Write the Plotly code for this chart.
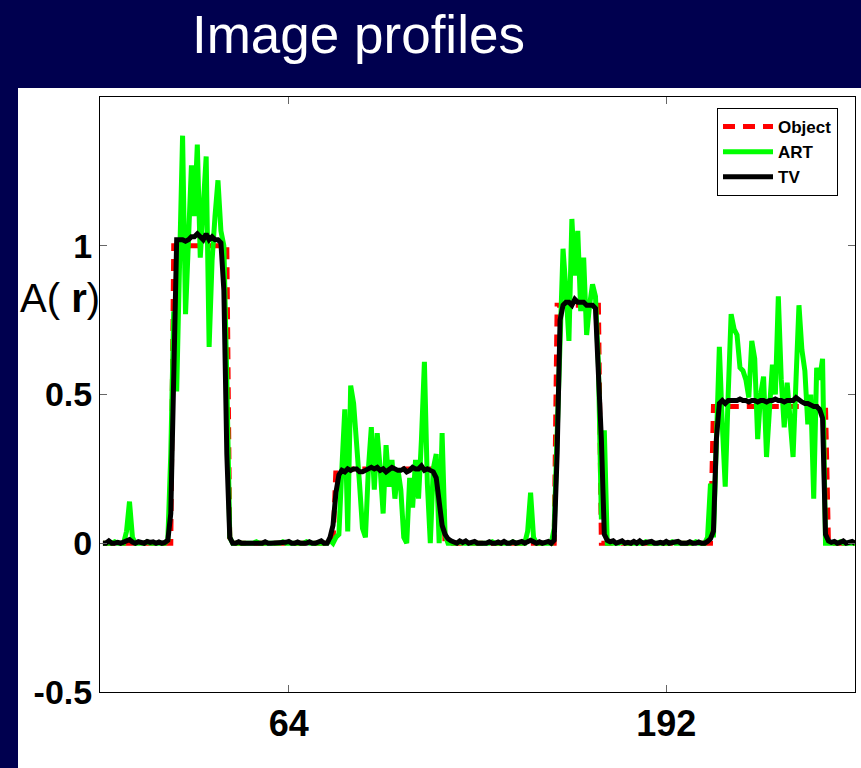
import plotly.graph_objects as go

# Sample index along the profile (pixels 1..256)
pixel = list(range(1, 257))

# True object profile
object_profile = [
    0, 0, 0, 0, 0, 0, 0, 0, 0, 0, 0, 0, 0, 0, 0, 0,
    0, 0, 0, 0, 0, 0, 0, 0, 1.0, 1.0, 1.0, 1.0, 1.0, 1.0, 1.0, 1.0,
    1.0, 1.0, 1.0, 1.0, 1.0, 1.0, 1.0, 1.0, 1.0, 1.0, 1.0, 0, 0, 0, 0, 0,
    0, 0, 0, 0, 0, 0, 0, 0, 0, 0, 0, 0, 0, 0, 0, 0,
    0, 0, 0, 0, 0, 0, 0, 0, 0, 0, 0, 0, 0, 0, 0, 0.25,
    0.25, 0.25, 0.25, 0.25, 0.25, 0.25, 0.25, 0.25, 0.25, 0.25, 0.25, 0.25, 0.25, 0.25, 0.25, 0.25,
    0.25, 0.25, 0.25, 0.25, 0.25, 0.25, 0.25, 0.25, 0.25, 0.25, 0.25, 0.25, 0.25, 0.25, 0.25, 0.25,
    0.25, 0.25, 0.25, 0.25, 0, 0, 0, 0, 0, 0, 0, 0, 0, 0, 0, 0,
    0, 0, 0, 0, 0, 0, 0, 0, 0, 0, 0, 0, 0, 0, 0, 0,
    0, 0, 0, 0, 0, 0, 0, 0, 0, 0, 0.8, 0.8, 0.8, 0.8, 0.8, 0.8,
    0.8, 0.8, 0.8, 0.8, 0.8, 0.8, 0.8, 0.8, 0.8, 0, 0, 0, 0, 0, 0, 0,
    0, 0, 0, 0, 0, 0, 0, 0, 0, 0, 0, 0, 0, 0, 0, 0,
    0, 0, 0, 0, 0, 0, 0, 0, 0, 0, 0, 0, 0, 0, 0, 0.46,
    0.46, 0.46, 0.46, 0.46, 0.46, 0.46, 0.46, 0.46, 0.46, 0.46, 0.46, 0.46, 0.46, 0.46, 0.46, 0.46,
    0.46, 0.46, 0.46, 0.46, 0.46, 0.46, 0.46, 0.46, 0.46, 0.46, 0.46, 0.46, 0.46, 0.46, 0.46, 0.46,
    0.46, 0.46, 0.46, 0.46, 0.46, 0.46, 0, 0, 0, 0, 0, 0, 0, 0, 0, 0,
]

# ART reconstruction
art_profile = [
    0.00, 0.00, 0.00, 0.00, 0.005, 0.00, 0.00, 0.00, 0.04, 0.14, 0.02, 0.00, 0.00, 0.00, 0.00, 0.005,
    0.00, 0.00, 0.00, 0.00, 0.00, 0.00, 0.01, 0.30, 0.78, 0.51, 0.95, 1.37, 0.77, 1.05, 1.27, 1.10,
    1.34, 0.96, 1.15, 1.30, 0.66, 0.95, 1.10, 1.22, 1.05, 1.00, 0.55, 0.02, 0.00, 0.00, 0.00, 0.00,
    0.00, 0.00, 0.00, 0.00, 0.005, 0.00, 0.00, 0.00, 0.00, 0.00, 0.00, 0.00, 0.00, 0.005, 0.00, 0.00,
    0.00, 0.00, 0.00, 0.00, 0.00, 0.005, 0.00, 0.00, 0.00, 0.00, 0.00, 0.00, 0.00, 0.01, 0.00, 0.02,
    0.03, 0.25, 0.45, 0.04, 0.53, 0.47, 0.30, 0.20, 0.05, 0.02, 0.25, 0.39, 0.18, 0.37, 0.25, 0.10,
    0.33, 0.19, 0.28, 0.15, 0.25, 0.18, 0.02, 0.00, 0.22, 0.12, 0.28, 0.15, 0.35, 0.61, 0.20, 0.00,
    0.25, 0.30, 0.00, 0.37, 0.03, 0.00, 0.00, 0.00, 0.00, 0.005, 0.00, 0.00, 0.00, 0.00, 0.00, 0.00,
    0.00, 0.00, 0.00, 0.00, 0.005, 0.00, 0.00, 0.00, 0.00, 0.00, 0.00, 0.005, 0.00, 0.00, 0.00, 0.00,
    0.04, 0.17, 0.02, 0.00, 0.00, 0.00, 0.00, 0.00, 0.00, 0.05, 0.40, 0.75, 0.99, 0.85, 0.68, 1.09,
    0.90, 1.05, 0.78, 0.96, 0.70, 0.80, 0.87, 0.83, 0.60, 0.08, 0.38, 0.00, 0.00, 0.00, 0.00, 0.00,
    0.005, 0.00, 0.00, 0.00, 0.00, 0.00, 0.00, 0.00, 0.005, 0.00, 0.00, 0.00, 0.00, 0.00, 0.00, 0.00,
    0.00, 0.005, 0.00, 0.00, 0.00, 0.00, 0.00, 0.00, 0.00, 0.005, 0.00, 0.00, 0.00, 0.02, 0.20, 0.02,
    0.35, 0.66, 0.40, 0.19, 0.50, 0.77, 0.72, 0.70, 0.59, 0.58, 0.55, 0.49, 0.68, 0.62, 0.35, 0.50,
    0.56, 0.29, 0.45, 0.60, 0.50, 0.83, 0.55, 0.39, 0.54, 0.42, 0.29, 0.55, 0.80, 0.65, 0.58, 0.40,
    0.50, 0.15, 0.59, 0.55, 0.62, 0.00, 0.00, 0.00, 0.00, 0.00, 0.005, 0.00, 0.00, 0.00, 0.00, 0.00,
]

# TV reconstruction
tv_profile = [
    0.00, 0.00, 0.008, 0.00, 0.00, 0.003, 0.00, 0.003, 0.005, 0.012, 0.004, 0.00, 0.005, 0.003, 0.00, 0.006,
    0.003, 0.005, 0.00, 0.004, 0.00, 0.003, 0.01, 0.10, 0.55, 1.02, 1.02, 1.02, 1.015, 1.02, 1.03, 1.03,
    1.04, 1.03, 1.02, 1.04, 1.02, 1.03, 1.02, 1.02, 1.01, 0.85, 0.30, 0.02, 0.00, 0.00, 0.005, 0.00,
    0.00, 0.00, 0.00, 0.003, 0.00, 0.00, 0.00, 0.005, 0.00, 0.00, 0.00, 0.00, 0.00, 0.00, 0.003, 0.006,
    0.00, 0.00, 0.004, 0.00, 0.00, 0.00, 0.005, 0.00, 0.00, 0.003, 0.008, 0.00, 0.00, 0.02, 0.06, 0.17,
    0.23, 0.245, 0.24, 0.25, 0.245, 0.25, 0.25, 0.24, 0.24, 0.245, 0.25, 0.255, 0.25, 0.255, 0.245, 0.25,
    0.24, 0.25, 0.255, 0.25, 0.245, 0.245, 0.25, 0.24, 0.245, 0.255, 0.25, 0.25, 0.26, 0.245, 0.25, 0.245,
    0.24, 0.22, 0.15, 0.06, 0.03, 0.015, 0.008, 0.005, 0.00, 0.008, 0.003, 0.008, 0.00, 0.003, 0.006, 0.00,
    0.00, 0.003, 0.00, 0.005, 0.00, 0.00, 0.004, 0.00, 0.006, 0.00, 0.00, 0.005, 0.00, 0.003, 0.006, 0.00,
    0.006, 0.01, 0.005, 0.00, 0.005, 0.00, 0.003, 0.006, 0.00, 0.01, 0.30, 0.75, 0.80, 0.81, 0.81, 0.80,
    0.82, 0.81, 0.81, 0.81, 0.80, 0.80, 0.80, 0.79, 0.60, 0.35, 0.03, 0.01, 0.005, 0.008, 0.00, 0.003,
    0.008, 0.00, 0.003, 0.00, 0.006, 0.00, 0.008, 0.00, 0.00, 0.004, 0.006, 0.00, 0.00, 0.003, 0.00, 0.006,
    0.00, 0.00, 0.004, 0.006, 0.00, 0.00, 0.00, 0.005, 0.00, 0.00, 0.004, 0.00, 0.00, 0.006, 0.015, 0.04,
    0.35, 0.47, 0.48, 0.47, 0.48, 0.48, 0.48, 0.48, 0.485, 0.48, 0.48, 0.475, 0.48, 0.48, 0.475, 0.48,
    0.48, 0.475, 0.48, 0.48, 0.485, 0.48, 0.48, 0.475, 0.48, 0.48, 0.48, 0.49, 0.48, 0.475, 0.47, 0.47,
    0.465, 0.46, 0.46, 0.45, 0.42, 0.03, 0.008, 0.003, 0.006, 0.00, 0.003, 0.008, 0.00, 0.004, 0.006, 0.00,
]

x_tick_values = [64, 192]
x_tick_labels = ["64", "192"]
y_tick_values = [-0.5, 0, 0.5, 1]
y_tick_labels = ["-0.5", "0", "0.5", "1"]

NAVY = "#00004f"
FONT = "Liberation Sans, Arial, Helvetica, sans-serif"

fig = go.Figure()
fig.add_trace(go.Scatter(x=pixel, y=object_profile, mode="lines", name="Object",
                         line=dict(color="#ff0000", width=5, dash="12px,8px")))
fig.add_trace(go.Scatter(x=pixel, y=art_profile, mode="lines", name="ART",
                         line=dict(color="#00ff00", width=5)))
fig.add_trace(go.Scatter(x=pixel, y=tv_profile, mode="lines", name="TV",
                         line=dict(color="#000000", width=5)))

# plot area spans 100..855 px horizontally and 97..692 px vertically
L, R, T, B = 100, 6, 97, 76
W, H = 861, 768
pw, ph = W - L - R, H - T - B


def px_x(p):
    return (p - L) / pw


def px_y(p):
    return (H - B - p) / ph


fig.update_layout(
    width=W, height=H,
    margin=dict(l=L, r=R, t=T, b=B, pad=0),
    paper_bgcolor=NAVY,
    plot_bgcolor="white",
    font=dict(family=FONT, color="black"),
    showlegend=True,
    legend=dict(
        x=px_x(838), y=px_y(108), xanchor="right", yanchor="top",
        bgcolor="white", bordercolor="black", borderwidth=1,
        font=dict(size=17, family=FONT, color="black", weight="bold"),
        itemwidth=50, tracegroupgap=0,
    ),
    shapes=[
        # white slide panel behind the axes
        dict(type="rect", xref="paper", yref="paper",
             x0=px_x(18), x1=px_x(861), y0=px_y(768), y1=px_y(88),
             fillcolor="white", line=dict(width=0), layer="below"),
    ],
    annotations=[
        dict(text="Image profiles", xref="paper", yref="paper",
             x=px_x(358), y=px_y(35), xanchor="center", yanchor="middle",
             showarrow=False, font=dict(size=53, color="white", family=FONT)),
        dict(text="A( <b>r</b>)", xref="paper", yref="paper",
             x=px_x(102), y=px_y(298), xanchor="right", yanchor="middle",
             showarrow=False, font=dict(size=40, color="black", family=FONT)),
    ],
)

fig.update_xaxes(
    range=[0, 256], tickmode="array", tickvals=x_tick_values, ticktext=x_tick_labels,
    ticks="inside", ticklen=7, tickwidth=1, tickcolor="#666666",
    showline=True, linecolor="black", linewidth=1, mirror="ticks",
    showgrid=False, zeroline=False,
    tickfont=dict(size=36, family=FONT, color="black", weight="bold"),
)
fig.update_yaxes(
    range=[-0.5, 1.5], tickmode="array", tickvals=y_tick_values, ticktext=y_tick_labels,
    ticks="inside", ticklen=7, tickwidth=1, tickcolor="#666666",
    showline=True, linecolor="black", linewidth=1, mirror="ticks",
    showgrid=False, zeroline=False,
    tickfont=dict(size=34, family=FONT, color="black", weight="bold"),
)

fig.write_html("out.html")
